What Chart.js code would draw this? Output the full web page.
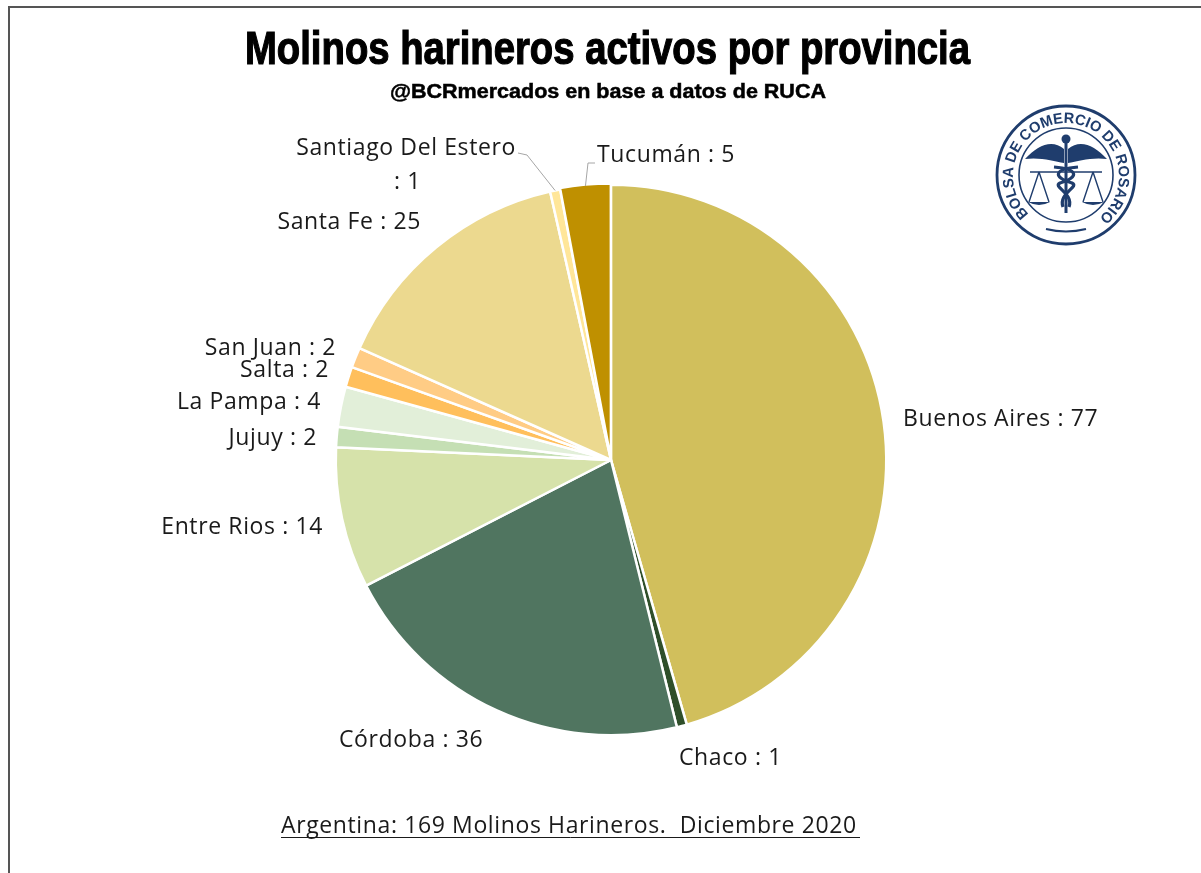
<!DOCTYPE html>
<html>
<head>
<meta charset="utf-8">
<title>Molinos harineros activos por provincia</title>
<script src="https://cdn.jsdelivr.net/npm/chart.js@4"></script>
<style>
  html, body { margin: 0; padding: 0; background: #fff; }
  #wrap { position: relative; width: 1201px; height: 873px; overflow: hidden; }
  #frame { position: absolute; left: 8px; top: 6px; right: -4px; bottom: -4px; border: 2px solid #555; }
  canvas { position: absolute; left: 0; top: 0; }
  #logo { position: absolute; left: 990px; top: 100px; }
</style>
</head>
<body>
<div id="wrap">
  <div id="frame"></div>
  <canvas id="chart" width="1201" height="873"></canvas>
  <svg id="logo" width="152" height="150" viewBox="-76 -75 152 150">
    <defs>
      <path id="ring" d="M -37 39 A 53 53 0 1 1 37 39"></path>
    </defs>
    <g fill="none" stroke="#1f3d6d">
      <circle r="69" stroke-width="2.8"></circle>
      <circle r="47" stroke-width="1.6"></circle>
      <path d="M -20 54 Q 0 59 20 54" stroke-width="2"></path>
      <path d="M -36 -3 H 36" stroke-width="1.5"></path>
      <path d="M 0 -36 V 38" stroke-width="3"></path>
      <path d="M -27 -3 L -37 27 M -27 -3 L -17 27 M 27 -3 L 37 27 M 27 -3 L 17 27" stroke-width="1.4"></path>
      <path d="M -12 -8 C 12 -6 14 2 -6 8 C -14 12 8 18 3 32 M 12 -8 C -12 -6 -14 2 6 8 C 14 12 -8 18 -3 32" stroke-width="3.2"></path>
    </g>
    <g fill="#1f3d6d">
      <circle cx="0" cy="-36" r="4.5"></circle>
      <path d="M -2 -26 C -14 -36 -28 -30 -41 -16 C -26 -18 -12 -14 -2 -12 Z"></path>
      <path d="M 2 -26 C 14 -36 28 -30 41 -16 C 26 -18 12 -14 2 -12 Z"></path>
      <path d="M -38 27 H -16 Q -27 33 -38 27 Z"></path>
      <path d="M 16 27 H 38 Q 27 33 16 27 Z"></path>
      <text font-family="Liberation Sans" font-weight="bold" font-size="15"><textPath href="#ring" textLength="256" lengthAdjust="spacingAndGlyphs">BOLSA DE COMERCIO DE ROSARIO</textPath></text>
    </g>
  </svg>
</div>
<script>
// datos
const provincias = ['Buenos Aires', 'Chaco', 'Córdoba', 'Entre Rios', 'Jujuy', 'La Pampa', 'Salta', 'San Juan', 'Santa Fe', 'Santiago Del Estero', 'Tucumán'];
const molinos = [77, 1, 36, 14, 2, 4, 2, 2, 25, 1, 5];
const colores = ['#D1BF5C', '#2F4F2A', '#507560', '#D6E2AA', '#C5DFB4', '#E2EFD9', '#FFBF5C', '#FFCC85', '#ECD98F', '#FFE699', '#BF9000'];

const tituloTexto = 'Molinos harineros activos por provincia';
const subtituloTexto = '@BCRmercados en base a datos de RUCA';
const pieTexto = 'Argentina: 169 Molinos Harineros.  Diciembre 2020';

// posicion de cada etiqueta (alineada a la derecha o izquierda del punto)
const etiquetas = {
  'Buenos Aires': { x: 903, y: 419, align: 'left' },
  'Chaco': { x: 679, y: 758, align: 'left' },
  'Córdoba': { x: 339, y: 740, align: 'left' },
  'Entre Rios': { x: 323, y: 527, align: 'right' },
  'Jujuy': { x: 317, y: 438, align: 'right' },
  'La Pampa': { x: 321, y: 402, align: 'right' },
  'Salta': { x: 329, y: 370, align: 'right' },
  'San Juan': { x: 336, y: 348, align: 'right' },
  'Santa Fe': { x: 421, y: 222, align: 'right' },
  'Tucumán': { x: 597, y: 155, align: 'left' }
};

const fuenteEtiqueta = '23px "Open Sans"';

// texto comprimido al ancho que tiene en el original
function textoAjustado(ctx, texto, font, x0, x1, y, grosor) {
  ctx.save();
  ctx.font = font;
  ctx.textAlign = 'left';
  ctx.textBaseline = 'alphabetic';
  const escala = (x1 - x0) / ctx.measureText(texto).width;
  ctx.translate(x0, y);
  ctx.scale(escala, 1);
  ctx.fillText(texto, 0, 0);
  ctx.lineWidth = grosor;
  ctx.strokeStyle = ctx.fillStyle;
  ctx.strokeText(texto, 0, 0);
  ctx.restore();
}

const etiquetasPlugin = {
  id: 'etiquetasPlugin',
  afterDraw(chart) {
    const ctx = chart.ctx;
    const arcs = chart.getDatasetMeta(0).data;
    ctx.save();

    // titulos
    ctx.fillStyle = '#000000';
    textoAjustado(ctx, tituloTexto, 'bold 46px "Liberation Sans"', 245, 970, 64, 1.2);
    textoAjustado(ctx, subtituloTexto, 'bold 20px "Liberation Sans"', 390, 826, 98, 0.5);

    // lineas guia
    ctx.strokeStyle = '#a6a6a6';
    ctx.lineWidth = 1;
    const guia = (i, puntos) => {
      const a = arcs[i];
      const mid = (a.startAngle + a.endAngle) / 2;
      ctx.beginPath();
      ctx.moveTo(a.x + Math.cos(mid) * a.outerRadius, a.y + Math.sin(mid) * a.outerRadius);
      puntos.forEach(p => ctx.lineTo(p[0], p[1]));
      ctx.stroke();
    };
    guia(provincias.indexOf('Santiago Del Estero'), [[527, 155], [518, 153]]);
    guia(provincias.indexOf('Tucumán'), [[588, 163], [595, 163]]);

    // etiquetas
    ctx.fillStyle = '#1a1a1a';
    ctx.font = fuenteEtiqueta;
    ctx.letterSpacing = '0.62px';
    ctx.textBaseline = 'middle';
    provincias.forEach((nombre, i) => {
      const pos = etiquetas[nombre];
      if (!pos) return;
      ctx.textAlign = pos.align;
      ctx.fillText(nombre + ' : ' + molinos[i], pos.x, pos.y);
    });
    const iSantiago = provincias.indexOf('Santiago Del Estero');
    ctx.textAlign = 'right';
    ctx.fillText(provincias[iSantiago], 516, 148);
    ctx.fillText(': ' + molinos[iSantiago], 421, 182);

    // pie del grafico
    ctx.textAlign = 'left';
    ctx.fillText(pieTexto, 281, 826);
    ctx.strokeStyle = '#1a1a1a';
    ctx.beginPath();
    ctx.moveTo(281, 837.5);
    ctx.lineTo(860, 837.5);
    ctx.stroke();

    ctx.restore();
  }
};

new Chart(document.getElementById('chart'), {
  type: 'pie',
  data: {
    labels: provincias,
    datasets: [{
      data: molinos,
      backgroundColor: colores,
      borderColor: '#ffffff',
      borderWidth: 2.5,
      offset: provincias.map(p => p === 'Tucumán' ? 3 : 0)
    }]
  },
  options: {
    responsive: false,
    animation: false,
    layout: { padding: { left: 333, right: 312, top: 182, bottom: 135 } },
    plugins: {
      legend: { display: false },
      tooltip: { enabled: false }
    }
  },
  plugins: [etiquetasPlugin]
});
</script>
</body>
</html>
